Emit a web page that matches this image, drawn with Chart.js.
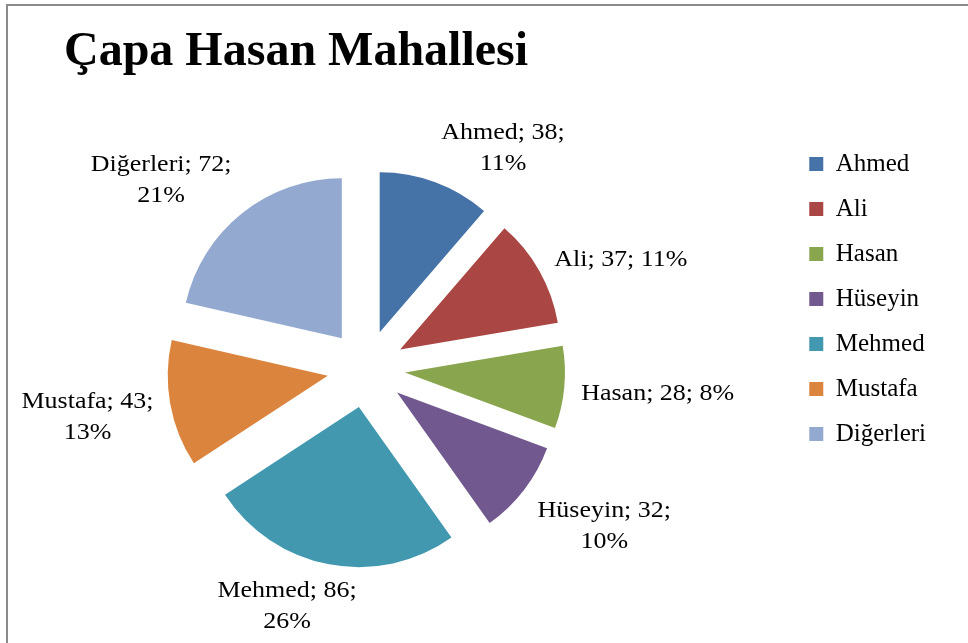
<!DOCTYPE html>
<html>
<head>
<meta charset="utf-8">
<script src="https://cdn.jsdelivr.net/npm/chart.js@4/dist/chart.umd.min.js"></script>
<style>
  body { margin: 0; background: #fff; overflow: hidden; }
  #frame { position: absolute; left: 6px; top: 4px; width: 1000px; height: 1000px; border: 2px solid #8a8a8a; box-sizing: border-box; }
  canvas { position: absolute; left: 0; top: 0; }
</style>
</head>
<body>
<div id="frame"></div>
<canvas id="chart" width="968" height="643"></canvas>
<script>
const names = ['Ahmed', 'Ali', 'Hasan', 'Hüseyin', 'Mehmed', 'Mustafa', 'Diğerleri'];
const counts = [38, 37, 28, 32, 86, 43, 72];
const colors = ['#4572a7', '#aa4643', '#89a54e', '#71588f', '#4198af', '#db843d', '#93a9cf'];

const serif = "'Liberation Serif', 'Times New Roman', serif";
const explode = 39;     // how far each slice is pulled out
const stretch = 1.13;   // Excel renders the label text a bit wide
const lineHeight = 31;

// Excel keeps the pie left of centre in the space beside the legend
const pieLeft = {
  id: 'pieLeft',
  afterLayout(chart) {
    const area = chart.chartArea;
    area.left -= 121;
    area.width = area.right - area.left;
  }
};

// draw every slice moved out along its own middle angle
const explodedSlices = {
  id: 'explodedSlices',
  beforeDatasetDraw(chart, args) {
    const ctx = chart.ctx;
    args.meta.data.forEach(arc => {
      const mid = (arc.startAngle + arc.endAngle) / 2;
      ctx.save();
      ctx.translate(Math.cos(mid) * explode, Math.sin(mid) * explode);
      arc.draw(ctx);
      ctx.restore();
    });
    return false;
  }
};

// "name; value; pct" labels outside each slice
const sliceLabels = {
  id: 'sliceLabels',
  afterDatasetsDraw(chart) {
    const ctx = chart.ctx;
    const meta = chart.getDatasetMeta(0);
    const total = counts.reduce((a, b) => a + b, 0);
    const lean = (v, k) => Math.max(-1, Math.min(1, v * k));
    ctx.save();
    ctx.font = '23px ' + serif;
    ctx.fillStyle = '#000';
    ctx.textAlign = 'center';
    ctx.textBaseline = 'middle';
    meta.data.forEach((arc, i) => {
      const mid = (arc.startAngle + arc.endAngle) / 2;
      const dx = Math.cos(mid), dy = Math.sin(mid);
      const pct = Math.round(counts[i] / total * 100) + '%';
      const first = names[i] + '; ' + counts[i] + ';';
      let lines = [first + ' ' + pct];
      if (ctx.measureText(lines[0]).width * stretch > 162) lines = [first, pct];
      const w = Math.max(...lines.map(l => ctx.measureText(l).width)) * stretch;
      const h = lines.length * lineHeight;
      const px = arc.x + dx * (explode + arc.outerRadius + 17);
      const py = arc.y + dy * (explode + arc.outerRadius + 7);
      const cx = px + lean(dx, 3) * w / 2;
      const cy = py + lean(dy, 1.5) * h / 2 + 4;
      lines.forEach((line, j) => {
        ctx.save();
        ctx.translate(cx, cy - h / 2 + lineHeight * (j + 0.5));
        ctx.scale(stretch, 1);
        ctx.fillText(line, 0, 0);
        ctx.restore();
      });
    });
    ctx.restore();
  }
};

Chart.defaults.font.family = serif;
Chart.defaults.color = '#000';

new Chart(document.getElementById('chart'), {
  type: 'pie',
  data: {
    labels: names,
    datasets: [{
      data: counts,
      backgroundColor: colors,
      borderWidth: 0,
      radius: 160
    }]
  },
  options: {
    responsive: false,
    animation: false,
    events: [],
    layout: {
      padding: { left: 64, right: 32, top: 0, bottom: 37 }
    },
    plugins: {
      title: {
        display: true,
        text: 'Çapa Hasan Mahallesi',
        align: 'start',
        color: '#000',
        font: { size: 48, weight: 'bold' },
        padding: { top: 24, bottom: 50 }
      },
      legend: {
        position: 'right',
        align: 'start',
        fullSize: false,
        labels: {
          font: { size: 25 },
          boxWidth: 14,
          boxHeight: 14,
          padding: 20
        }
      },
      tooltip: { enabled: false }
    }
  },
  plugins: [pieLeft, explodedSlices, sliceLabels]
});
</script>
</body>
</html>
